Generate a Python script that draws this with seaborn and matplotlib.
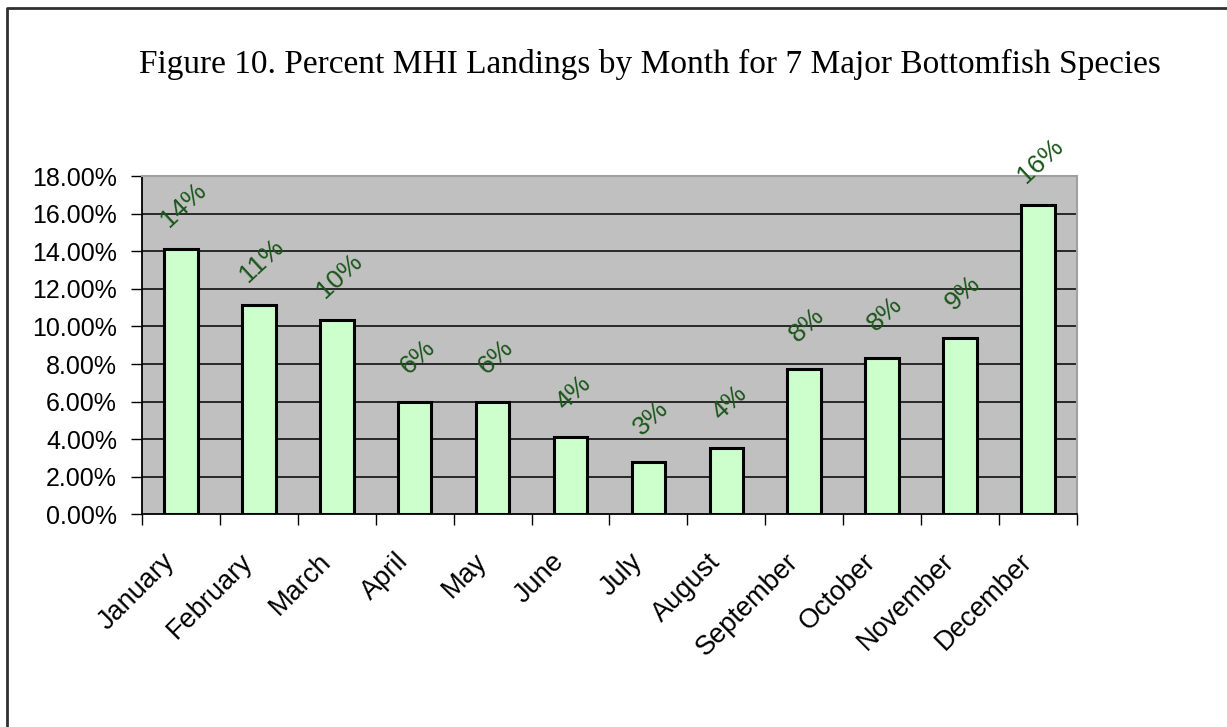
import matplotlib
matplotlib.use("Agg")
import matplotlib.pyplot as plt
import matplotlib.transforms as mtransforms
from matplotlib.lines import Line2D
import numpy as np
import pandas as pd
import seaborn as sns

months = ["January", "February", "March", "April", "May", "June",
          "July", "August", "September", "October", "November", "December"]
pct_landings = [14.1, 11.16, 10.35, 6.0, 6.0, 4.1, 2.8, 3.55, 7.72, 8.31, 9.4, 16.45]
y_ticks = [0, 2, 4, 6, 8, 10, 12, 14, 16, 18]
title = "Figure 10. Percent MHI Landings by Month for 7 Major Bottomfish Species"

df = pd.DataFrame({"month": months, "pct": pct_landings})

sns.set_theme(style="white")
plt.rcParams["font.family"] = ["Liberation Sans", "DejaVu Sans"]

fig = plt.figure(figsize=(12.27, 7.27), dpi=100)
fig.patch.set_facecolor("white")
ax = fig.add_axes([0.1157, 0.2923, 0.7620, 0.4656])
ax.set_facecolor("#c0c0c0")

sns.barplot(data=df, x="month", y="pct", ax=ax, color="#ccffcc",
            saturation=1, edgecolor="black", linewidth=2.2, width=0.43,
            zorder=3)

ax.set_xlim(-0.5, len(months) - 0.5)
ax.set_ylim(0, 18)
ax.set_yticks(y_ticks)
ax.set_yticklabels([f"{v:.2f}%" for v in y_ticks], fontsize=18, color="black")
for v in y_ticks[1:]:
    ax.axhline(v, color="black", lw=1.1, zorder=1)

# category boundary ticks on the x axis
ax.set_xticks(np.arange(len(months)))
ax.set_xticklabels(months, rotation=45, ha="right", va="center",
                   rotation_mode="anchor", fontsize=19.5, color="black")
ax.set_xticks(np.arange(-0.5, len(months)), minor=True)
ax.tick_params(axis="x", which="major", length=0, pad=31)
ax.tick_params(axis="x", which="minor", length=8, width=1, color="black",
               direction="out", bottom=True)
ax.tick_params(axis="y", length=8, width=1, color="black", direction="out",
               left=True, pad=10)
for lab in ax.get_xticklabels():
    lab.set_transform(lab.get_transform() +
                      mtransforms.ScaledTranslation(-0.1, 0, fig.dpi_scale_trans))

ax.set_xlabel("")
ax.set_ylabel("")
for side in ("left", "bottom"):
    ax.spines[side].set_color("black")
    ax.spines[side].set_linewidth(1.3)
for side in ("top", "right"):
    ax.spines[side].set_color("#a0a0a0")
    ax.spines[side].set_linewidth(1.5)
for sp in ax.spines.values():
    sp.set_zorder(4)

# value labels above each bar
for i, v in enumerate(pct_landings):
    ax.annotate(f"{round(v):d}%", xy=(i, v), xytext=(2, 32),
                textcoords="offset points", rotation=43, ha="center",
                va="center", color="#1a561a", fontsize=19, zorder=5)

fig.text(0.530, 0.912, title, ha="center", va="center",
         family=["Liberation Serif", "DejaVu Serif"], fontsize=24, color="black")

# outer frame
fig.add_artist(Line2D([0.006, 0.006, 1.0], [0.0, 0.989, 0.989],
                      transform=fig.transFigure, color="#303030", lw=2))

fig.savefig("out.png", dpi=100)
